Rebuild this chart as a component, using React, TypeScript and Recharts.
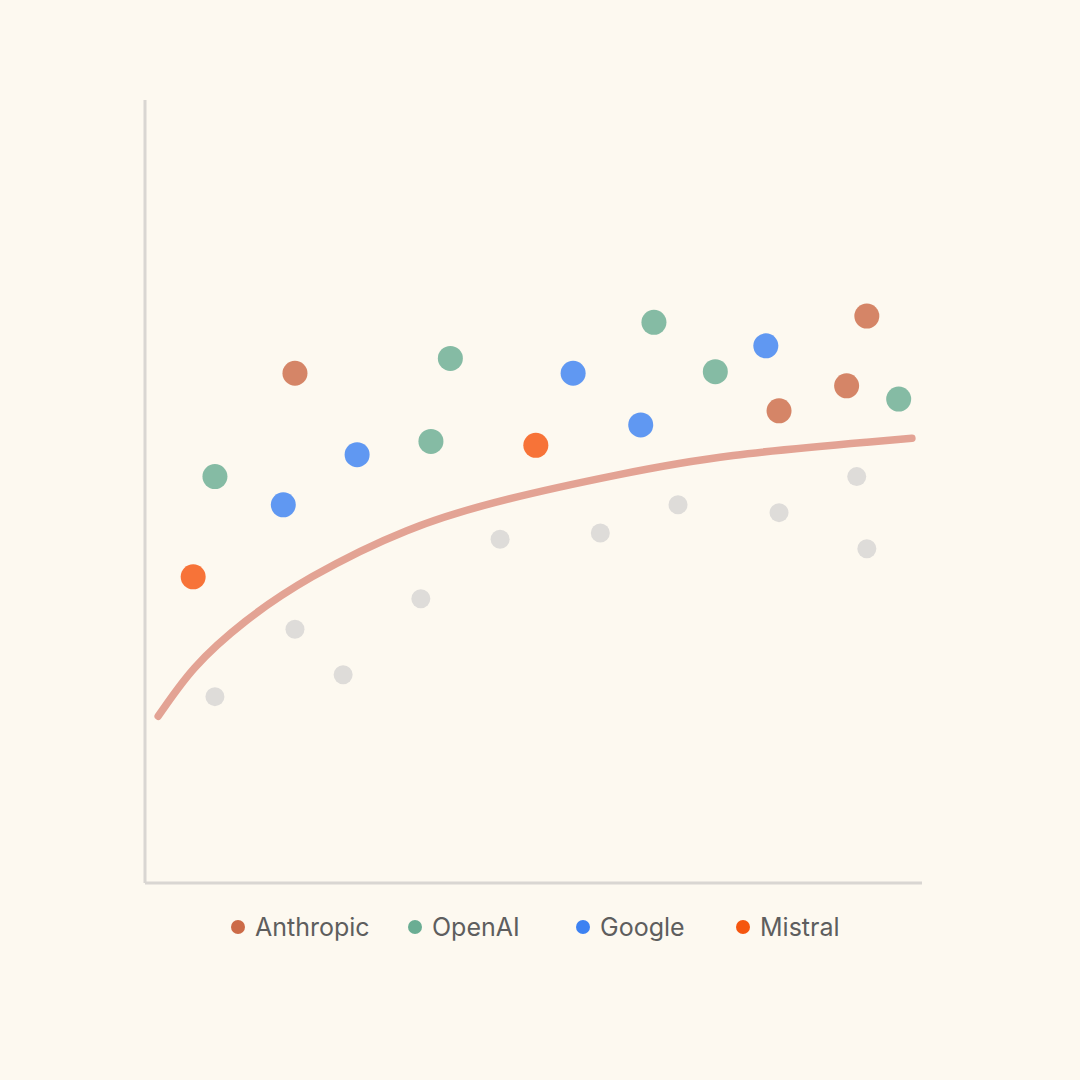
import React from "react";
import {
  ComposedChart,
  Scatter,
  Line,
  XAxis,
  YAxis,
  Legend,
} from "recharts";

// values are on a 0-100 scale for both axes (no ticks shown in the original)
const anthropicPoints = [
  { x: 19.3, y: 65.1 },
  { x: 81.6, y: 60.3 },
  { x: 90.3, y: 63.5 },
  { x: 92.9, y: 72.4 },
];

const openaiPoints = [
  { x: 9.0, y: 51.9 },
  { x: 36.8, y: 56.4 },
  { x: 39.3, y: 67.0 },
  { x: 65.5, y: 71.6 },
  { x: 73.4, y: 65.3 },
  { x: 97.0, y: 61.8 },
];

const googlePoints = [
  { x: 17.8, y: 48.3 },
  { x: 27.3, y: 54.7 },
  { x: 55.1, y: 65.1 },
  { x: 63.8, y: 58.5 },
  { x: 79.9, y: 68.6 },
];

const mistralPoints = [
  { x: 6.2, y: 39.1 },
  { x: 50.3, y: 55.9 },
];

const otherPoints = [
  { x: 9.0, y: 23.8 },
  { x: 19.3, y: 32.4 },
  { x: 25.5, y: 26.6 },
  { x: 35.5, y: 36.3 },
  { x: 45.7, y: 43.9 },
  { x: 58.6, y: 44.7 },
  { x: 68.6, y: 48.3 },
  { x: 81.6, y: 47.3 },
  { x: 91.6, y: 51.9 },
  { x: 92.9, y: 42.7 },
];

const trendPoints = [
  { x: 1.7, y: 21.3 },
  { x: 6.4, y: 27.5 },
  { x: 12.9, y: 33.4 },
  { x: 21.5, y: 39.1 },
  { x: 33.7, y: 45.0 },
  { x: 46.6, y: 49.0 },
  { x: 60.7, y: 52.1 },
  { x: 75.7, y: 54.6 },
  { x: 92.9, y: 56.3 },
  { x: 98.7, y: 56.8 },
];

const labs = ["Anthropic", "OpenAI", "Google", "Mistral"];
const labColors = ["#CC6B48", "#6AAD93", "#3D82F2", "#F5560F"];
const labPoints = [anthropicPoints, openaiPoints, googlePoints, mistralPoints];

const BG = "#FDF9F0";
const AXIS = "#D9D6D2";
const TREND = "#E3A394";
const OTHER = "#DEDCD9";

const legendWidths = [177, 168, 160, 120];

const dot = (r: number, fill: string, opacity = 1) => (props: any) =>
  <circle cx={props.cx} cy={props.cy} r={r} fill={fill} fillOpacity={opacity} />;

function LabLegend() {
  return (
    <div
      style={{
        display: "flex",
        paddingLeft: 231,
        fontFamily: "Inter, 'Noto Sans', sans-serif",
        fontSize: 25,
        color: "#5E5E5E",
        lineHeight: "30px",
      }}
    >
      {labs.map((name, i) => (
        <div
          key={name}
          style={{ width: legendWidths[i], display: "flex", alignItems: "center" }}
        >
          <span
            style={{
              width: 14,
              height: 14,
              borderRadius: 7,
              background: labColors[i],
              marginRight: 10,
              display: "inline-block",
            }}
          />
          <span>{name}</span>
        </div>
      ))}
    </div>
  );
}

export default function App() {
  return (
    <div
      style={{
        position: "absolute",
        left: 0,
        top: 0,
        width: 1080,
        height: 1080,
        background: BG,
      }}
    >
      <ComposedChart
        width={1080}
        height={1080}
        margin={{ top: 100, right: 158, bottom: 166, left: 144 }}
      >
        <XAxis
          type="number"
          dataKey="x"
          domain={[0, 100]}
          tick={false}
          tickLine={false}
          axisLine={{ stroke: AXIS, strokeWidth: 3 }}
          height={1}
        />
        <YAxis
          type="number"
          dataKey="y"
          domain={[0, 100]}
          tick={false}
          tickLine={false}
          axisLine={{ stroke: AXIS, strokeWidth: 3 }}
          width={1}
        />
        <Legend
          verticalAlign="bottom"
          content={() => <LabLegend />}
          wrapperStyle={{ top: 912, left: 0, width: 1080, height: 30 }}
        />
        <Scatter
          data={otherPoints}
          shape={dot(9.5, OTHER)}
          isAnimationActive={false}
          legendType="none"
        />
        <Line
          data={trendPoints}
          dataKey="y"
          type="natural"
          stroke={TREND}
          strokeWidth={7.5}
          strokeLinecap="round"
          dot={false}
          activeDot={false}
          isAnimationActive={false}
          legendType="none"
        />
        {labs.map((name, i) => (
          <Scatter
            key={name}
            name={name}
            data={labPoints[i]}
            shape={dot(12.5, labColors[i], 0.82)}
            isAnimationActive={false}
          />
        ))}
      </ComposedChart>
    </div>
  );
}
